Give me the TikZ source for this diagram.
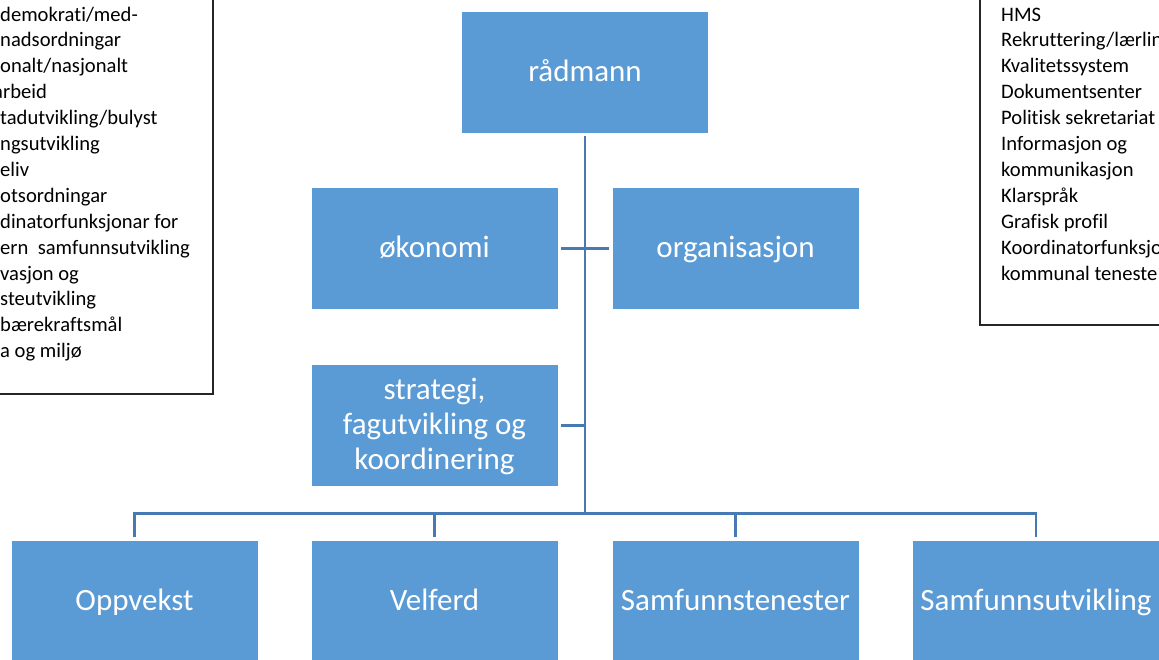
\documentclass[tikz,border=0pt]{standalone}
\usepackage{fontspec}
\setmainfont{Carlito}[Ligatures=CommonOff]
\definecolor{boxblue}{HTML}{5B9BD5}
\definecolor{connblue}{HTML}{4779B3}
\newcommand{\bstrut}{\rule[-6pt]{0pt}{30pt}}
\tikzset{
  orgbox/.style={fill=boxblue, text=white, minimum width=246pt, minimum height=121pt,
    inner sep=0pt, align=center, font=\fontsize{31}{35}\selectfont},
  conn/.style={draw=connblue, line width=2.7pt},
  sidetext/.style={anchor=base west, inner sep=0pt, font=\fontsize{20.6}{25.9}\selectfont, text=black},
  listframe/.style={draw=black!85, line width=1.2pt},
}
\begin{document}
\begin{tikzpicture}[x=1pt,y=-1pt]
\useasboundingbox (0,0) rectangle (1159,659);
\fill[white] (0,0) rectangle (1159,659);

% side lists
\draw[listframe] (-10,-10) rectangle (213,394);
\draw[listframe] (980,-10) rectangle (1175,325);
\foreach \t [count=\i] in {demokrati/med-, nadsordningar, onalt/nasjonalt, \hspace*{-7pt}arbeid,
  tadutvikling/bulyst, ngsutvikling, eliv, otsordningar, dinatorfunksjonar for,
  ern\ \ samfunnsutvikling, vasjon og, steutvikling, bærekraftsmål, a og miljø}
  \node[sidetext] (left\i) at (0,21+25.9*\i-25.9) {\t};
\foreach \t [count=\i] in {HMS, Rekruttering/lærlin, Kvalitetssystem, Dokumentsenter,
  Politisk sekretariat, Informasjon og, kommunikasjon, Klarspråk, Grafisk profil,
  Koordinatorfunksjo, kommunal teneste}
  \node[sidetext] (right\i) at (1001,21+25.9*\i-25.9) {\t};

% boxes
\node[orgbox] (radmann) at (585,72.5) {\bstrut rådmann};
\node[orgbox] (okonomi) at (434.5,248.5) {\bstrut økonomi};
\node[orgbox] (organisasjon) at (735.5,248.5) {\bstrut organisasjon};
\node[orgbox] (strategi) at (434.5,425.5) {\bstrut strategi,\\ \bstrut fagutvikling og\\ \bstrut koordinering};
\node[orgbox] (oppvekst) at (134.5,601.5) {\bstrut Oppvekst};
\node[orgbox] (velferd) at (434.5,601.5) {\bstrut Velferd};
\node[orgbox] (samfunnstenester) at (735.5,601.5) {\bstrut Samfunnstenester};
\node[orgbox] (samfunnsutvikling) at (1036,601.5) {\bstrut Samfunnsutvikling};

% connectors
\coordinate (busC) at (585,513.3);
\coordinate (busL) at (oppvekst.north |- busC);
\coordinate (busR) at (samfunnsutvikling.north |- busC);
\draw[conn, shorten <=3pt] (radmann.south) -- (busC);
\draw[conn, shorten <=3.5pt, shorten >=3.5pt] (okonomi.east) -- (organisasjon.west);
\draw[conn, shorten <=3.5pt] (strategi.east) -- (strategi.east -| busC);
\draw[conn, shorten <=4pt, shorten >=4pt] (oppvekst.north) -- (busL) -- (busR) -- (samfunnsutvikling.north);
\draw[conn, shorten >=4pt] (velferd.north |- busC) -- (velferd.north);
\draw[conn, shorten >=4pt] (samfunnstenester.north |- busC) -- (samfunnstenester.north);
\end{tikzpicture}
\end{document}
